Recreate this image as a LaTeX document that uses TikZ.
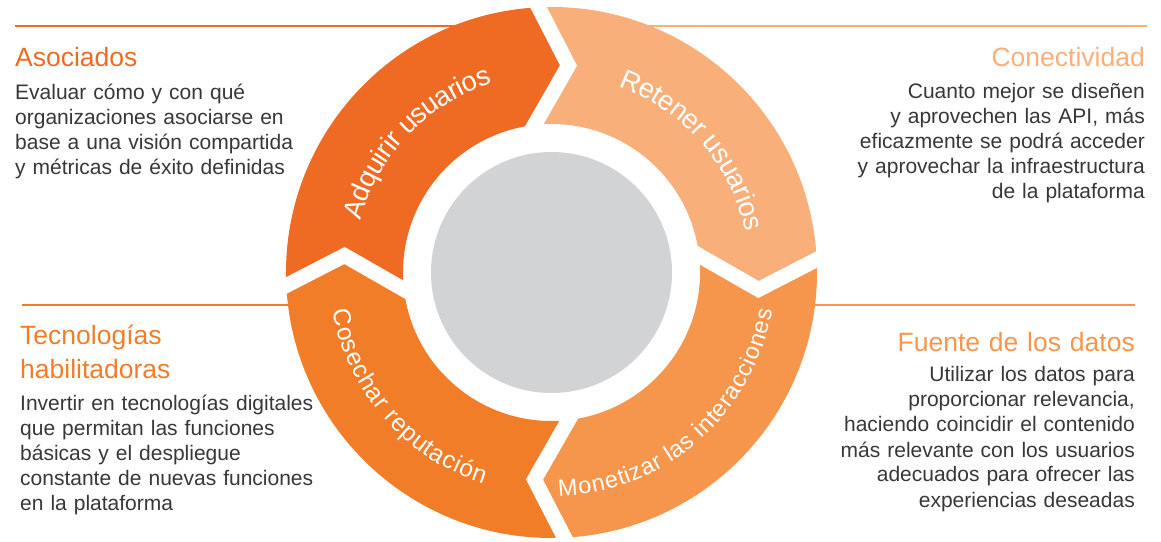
\documentclass[tikz,border=0pt]{standalone}
\usepackage{fontspec}
\setmainfont{Liberation Sans}
\usepackage{xcolor}
\usetikzlibrary{calc,decorations.text}

\definecolor{adqorange}{RGB}{239,106,35}
\definecolor{retpeach}{RGB}{248,175,122}
\definecolor{monorange}{RGB}{245,150,76}
\definecolor{cosorange}{RGB}{242,125,41}
\definecolor{coregray}{RGB}{209,211,212}
\definecolor{bodygray}{RGB}{55,55,55}

\newcommand{\ringbig}{\fontsize{27.5}{28}\selectfont}
\newcommand{\ringmid}{\fontsize{24.5}{25}\selectfont}
\newcommand{\ringsmall}{\fontsize{23.5}{24}\selectfont}

\tikzstyle{heading} = [inner sep=0pt, text width=330pt, font=\fontsize{26.5}{33}\selectfont]
\tikzstyle{blurb} = [inner sep=0pt, text width=330pt, text=bodygray, font=\fontsize{21}{25}\selectfont]
\tikzstyle{rule} = [line width=1.2pt]
\tikzstyle{seam} = [draw=white, line width=15pt, line join=miter]
\tikzstyle{ringlabel} = [decorate, decoration={text along path, text align=center, text color=white, raise=-9pt}]

\begin{document}
\begin{tikzpicture}[x=1pt,y=1pt]
\useasboundingbox (0,0) rectangle (1161,541);
\coordinate (c) at (551.5,268.5);

% rules behind the ring
\draw[rule, adqorange] (15,515) -- (455,515);
\draw[rule, retpeach] (648,515) -- (1147,515);
\draw[rule, cosorange] (22,236) -- (290,236);
\draw[rule, monorange] (813,236) -- (1135,236);

% ring segments, clockwise from the left
\foreach \a/\col in {180/adqorange,90/retpeach,0/monorange,-90/cosorange}
  \fill[\col] ($(c)+(\a+2.8:265.5)$) arc[start angle=\a+2.8, end angle=\a-87.2, radius=265.5]
    -- ($(c)+(\a-94.7:207.7)$) -- ($(c)+(\a-83.4:148.5)$)
    arc[start angle=\a-83.4, end angle=\a+6.6, radius=148.5]
    -- ($(c)+(\a-4.7:207.7)$) -- cycle;

% white chevron gaps
\foreach \a in {90,0,-90,180} {
  \coordinate (so) at ($(c)+(\a+2.8:265.5)$);
  \coordinate (st) at ($(c)+(\a-4.7:207.7)$);
  \coordinate (si) at ($(c)+(\a+6.6:148.5)$);
  \draw[seam] ($(st)!1.25!(so)$) -- (st) -- ($(st)!1.1!(si)$);
}

\fill[coregray] (c) circle[radius=120.5];

% labels along the ring
\path[ringlabel, decoration={text={|\ringbig|Adquirir usuarios}}]
  ($(c)+(196:207)$) arc[start angle=196, end angle=76, radius=207];
\path[ringlabel, decoration={text={|\ringbig|Retener usuarios}}]
  ($(c)+(101:207)$) arc[start angle=101, end angle=-19, radius=207];
\path[ringlabel, decoration={text={|\ringsmall|Monetizar las interacciones}, raise=-17pt}]
  ($(c)+(-109:207)$) arc[start angle=-109, end angle=11, radius=207];
\path[ringlabel, decoration={text={|\ringmid|Cosechar reputación}, raise=-15pt}]
  ($(c)+(161:207)$) arc[start angle=161, end angle=281, radius=207];

% side texts
\node[heading, text=adqorange, anchor=base west, align=left] (asociados) at (15,474) {Asociados};
\node[blurb, anchor=base west, align=left] (asociadostxt) at (15,441)
  {Evaluar cómo y con qué\\organizaciones asociarse en\\base a una visión compartida\\y métricas de éxito definidas};

\node[heading, text=retpeach, anchor=base east, align=right] (conectividad) at (1145,474) {Conectividad};
\node[blurb, anchor=base east, align=right] (conectividadtxt) at (1145,442)
  {Cuanto mejor se diseñen\\y aprovechen las API, más\\eficazmente se podrá acceder\\y aprovechar la infraestructura\\de la plataforma};

\node[heading, text=cosorange, anchor=base west, align=left] (tecnologias) at (20,196) {Tecnologías\\habilitadoras};
\node[blurb, anchor=base west, align=left] (tecnologiastxt) at (20,131)
  {Invertir en tecnologías digitales\\que permitan las funciones\\básicas y el despliegue\\constante de nuevas funciones\\en la plataforma};

\node[heading, text=monorange, anchor=base east, align=right] (fuente) at (1135,189) {Fuente de los datos};
\node[blurb, anchor=base east, align=right] (fuentetxt) at (1135,159)
  {Utilizar los datos para\\proporcionar relevancia,\\haciendo coincidir el contenido\\más relevante con los usuarios\\adecuados para ofrecer las\\experiencias deseadas};
\end{tikzpicture}
\end{document}
